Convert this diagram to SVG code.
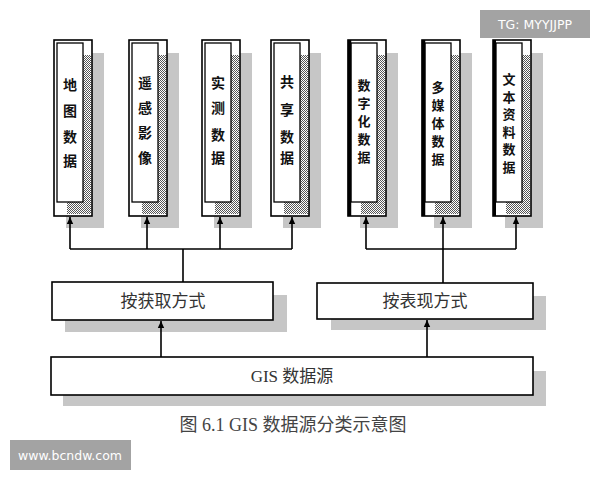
<svg xmlns="http://www.w3.org/2000/svg" width="600" height="480" viewBox="0 0 600 480">
<defs>
<pattern id="chk" width="2" height="2" patternUnits="userSpaceOnUse">
<rect width="2" height="2" fill="#fff"/>
<rect width="1" height="1" fill="#555"/>
<rect x="1" y="1" width="1" height="1" fill="#555"/>
</pattern>
<marker id="ah" markerWidth="8" markerHeight="8" refX="7" refY="4" orient="auto" markerUnits="userSpaceOnUse">
<path d="M0,0.8 L7,4 L0,7.2 Z" fill="#000"/>
</marker>
</defs>
<style>
.sh{fill:#c6c6c6}
.out{fill:#fff;stroke:#000;stroke-width:1.6}
.inn{fill:#fff;stroke:#000;stroke-width:1.3}
.chk{fill:url(#chk)}
.col{font-family:"Noto Sans CJK SC",sans-serif;font-size:14px;font-weight:bold;fill:#111;text-anchor:middle}
.col2{font-family:"Noto Sans CJK SC",sans-serif;font-size:13px;font-weight:bold;fill:#111;text-anchor:middle}
.lbl{font-family:"Liberation Serif","Noto Sans CJK SC",serif;font-size:17px;fill:#333;text-anchor:middle}
.cap{font-family:"Liberation Serif","Noto Sans CJK SC",serif;font-size:18px;fill:#444;text-anchor:middle}
.con{fill:none;stroke:#000;stroke-width:1.6}
.wm{fill:#a3a3a3}
.wmt{font-family:"DejaVu Sans",sans-serif;font-size:12.5px;fill:#fff;text-anchor:middle}
</style>
<rect width="600" height="480" fill="#fff"/>

<g id="n1">
<rect class="sh" x="66" y="53" width="38" height="175"/>
<rect class="out" x="54" y="40" width="38" height="176"/>
<rect class="chk" x="67" y="55" width="24" height="159"/>
<rect class="inn" x="57" y="43" width="26" height="159"/>
<text class="col"><tspan x="70" y="90">地</tspan><tspan x="70" y="116">图</tspan><tspan x="70" y="142">数</tspan><tspan x="70" y="166">据</tspan></text>
</g>
<g id="n2">
<rect class="sh" x="141" y="53" width="38" height="175"/>
<rect class="out" x="129" y="40" width="38" height="176"/>
<rect class="chk" x="142" y="55" width="24" height="159"/>
<rect class="inn" x="132" y="43" width="26" height="159"/>
<text class="col"><tspan x="145" y="88">遥</tspan><tspan x="145" y="113">感</tspan><tspan x="145" y="138">影</tspan><tspan x="145" y="163">像</tspan></text>
</g>
<g id="n3">
<rect class="sh" x="214" y="53" width="38" height="175"/>
<rect class="out" x="202" y="40" width="38" height="176"/>
<rect class="chk" x="215" y="55" width="24" height="159"/>
<rect class="inn" x="205" y="43" width="26" height="159"/>
<text class="col"><tspan x="218" y="88">实</tspan><tspan x="218" y="113">测</tspan><tspan x="218" y="140">数</tspan><tspan x="218" y="163">据</tspan></text>
</g>
<g id="n4">
<rect class="sh" x="283" y="53" width="38" height="175"/>
<rect class="out" x="271" y="40" width="38" height="176"/>
<rect class="chk" x="284" y="55" width="24" height="159"/>
<rect class="inn" x="274" y="43" width="26" height="159"/>
<text class="col"><tspan x="287" y="87">共</tspan><tspan x="287" y="115">享</tspan><tspan x="287" y="142">数</tspan><tspan x="287" y="163">据</tspan></text>
</g>
<g id="n5">
<rect class="sh" x="360" y="53" width="38" height="175"/>
<rect class="out" x="348" y="40" width="38" height="176"/>
<rect class="chk" x="361" y="55" width="24" height="159"/>
<rect class="inn" x="351" y="43" width="26" height="159"/>
<line x1="349.5" y1="40" x2="349.5" y2="216" stroke="#000" stroke-width="3.5"/>
<text class="col2"><tspan x="364" y="90">数</tspan><tspan x="364" y="108">字</tspan><tspan x="364" y="126">化</tspan><tspan x="364" y="144">数</tspan><tspan x="364" y="162">据</tspan></text>
</g>
<g id="n6">
<rect class="sh" x="434" y="53" width="38" height="175"/>
<rect class="out" x="422" y="40" width="38" height="176"/>
<rect class="chk" x="435" y="55" width="24" height="159"/>
<rect class="inn" x="425" y="43" width="26" height="159"/>
<line x1="423.5" y1="40" x2="423.5" y2="216" stroke="#000" stroke-width="3.5"/>
<text class="col2"><tspan x="438" y="92">多</tspan><tspan x="438" y="110">媒</tspan><tspan x="438" y="128">体</tspan><tspan x="438" y="146">数</tspan><tspan x="438" y="164">据</tspan></text>
</g>
<g id="n7">
<rect class="sh" x="505" y="53" width="38" height="175"/>
<rect class="out" x="493" y="40" width="38" height="176"/>
<rect class="chk" x="506" y="55" width="24" height="159"/>
<rect class="inn" x="496" y="43" width="26" height="159"/>
<line x1="494.5" y1="40" x2="494.5" y2="216" stroke="#000" stroke-width="3"/>
<text class="col2"><tspan x="509" y="84">文</tspan><tspan x="509" y="101.5">本</tspan><tspan x="509" y="119">资</tspan><tspan x="509" y="136.5">料</tspan><tspan x="509" y="154">数</tspan><tspan x="509" y="171.5">据</tspan></text>
</g>

<g id="acq">
<rect class="sh" x="65" y="295" width="222" height="37"/>
<rect class="out" x="52" y="282" width="221" height="38"/>
<text class="lbl" x="163" y="307">按获取方式</text>
</g>
<g id="rep">
<rect class="sh" x="331" y="296" width="215" height="34"/>
<rect class="out" x="317" y="283" width="216" height="36"/>
<text class="lbl" x="425" y="307">按表现方式</text>
</g>
<g id="src">
<rect class="sh" x="63" y="371" width="483" height="35"/>
<rect class="out" x="51" y="357" width="482" height="38"/>
<text class="lbl" x="292" y="382">GIS 数据源</text>
</g>

<g id="connectors">
<path class="con" d="M70,249 H292 M183,249 V282 M366,249 H516 M443,249 V283"/>
<path class="con" marker-end="url(#ah)" d="M70,249 V217"/>
<path class="con" marker-end="url(#ah)" d="M147,249 V217"/>
<path class="con" marker-end="url(#ah)" d="M220,249 V217"/>
<path class="con" marker-end="url(#ah)" d="M292,249 V217"/>
<path class="con" marker-end="url(#ah)" d="M366,249 V217"/>
<path class="con" marker-end="url(#ah)" d="M443,249 V217"/>
<path class="con" marker-end="url(#ah)" d="M516,249 V217"/>
<path class="con" marker-end="url(#ah)" d="M161,357 V321"/>
<path class="con" marker-end="url(#ah)" d="M427,357 V320"/>
</g>

<text class="cap" x="293" y="431">图 6.1 GIS 数据源分类示意图</text>

<rect class="wm" x="480" y="10" width="110" height="28"/>
<text class="wmt" x="535" y="29">TG: MYYJJPP</text>
<rect class="wm" x="10" y="440" width="121" height="30"/>
<text class="wmt" x="70" y="460">www.bcndw.com</text>
</svg>
